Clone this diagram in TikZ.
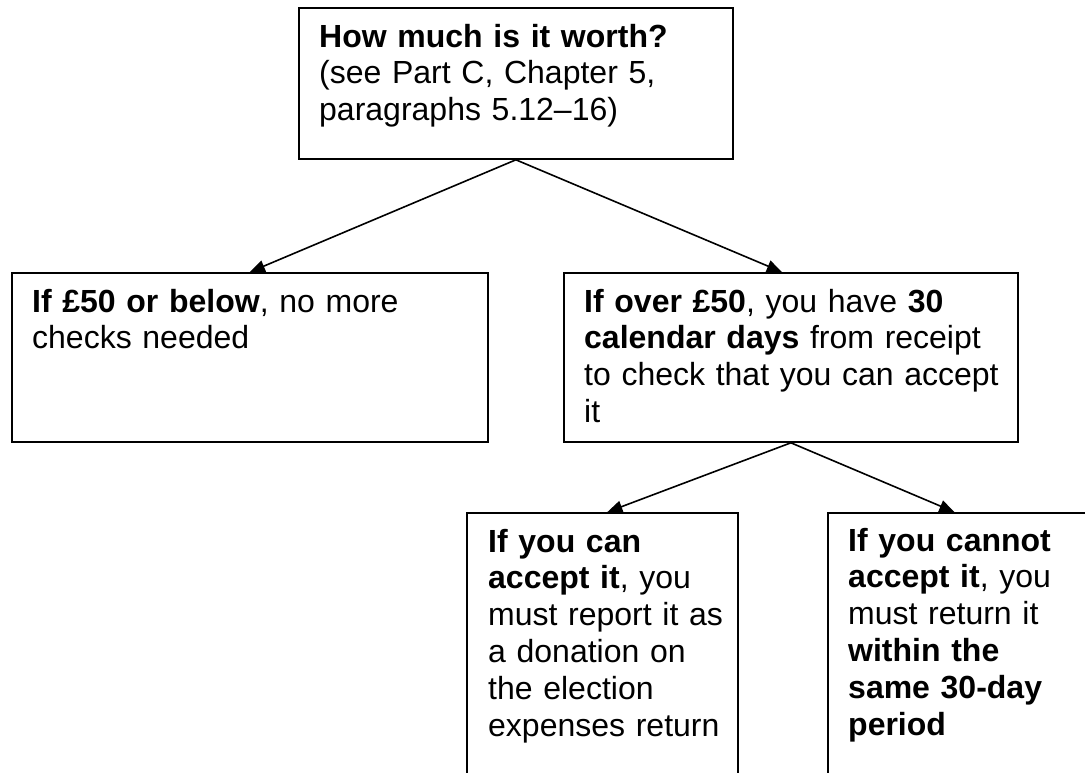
\documentclass[tikz,border=0pt]{standalone}
\usepackage{fontspec}
\setmainfont{Liberation Sans}
\usetikzlibrary{arrows.meta}
\begin{document}
\begin{tikzpicture}[x=1pt,y=-1pt,
  box/.style={draw, line width=1.8pt, inner sep=0pt, anchor=north west},
  txt/.style={inner sep=0pt, anchor=base west, align=left, font=\fontsize{32}{36.8}\selectfont},
  link/.style={line width=1.6pt, -{Triangle[length=15pt,width=12pt]}}
]
\useasboundingbox[fill=white] (0,0) rectangle (1085,772);
% boxes
\node[box, minimum width=434pt, minimum height=151pt] (top) at (298,7) {};
\node[box, minimum width=476pt, minimum height=169pt] (lm) at (11,272) {};
\node[box, minimum width=454pt, minimum height=169pt] (rm) at (563,272) {};
\node[box, minimum width=271pt, minimum height=300pt] (bl) at (466,512) {};
\node[box, minimum width=271pt, minimum height=300pt] (br) at (827,512) {};
% texts
\node[txt, text width=405pt] (topT) at ([xshift=21pt,yshift=-40pt]top.north west)
  {\textbf{How much is it worth?}\\(see Part C, Chapter 5,\\paragraphs 5.12–16)};
\node[txt, text width=440pt] (lmT) at ([xshift=21pt,yshift=-40pt]lm.north west)
  {\textbf{If £50 or below}, no more\\checks needed};
\node[txt, text width=425pt] (rmT) at ([xshift=21pt,yshift=-40pt]rm.north west)
  {\textbf{If over £50}, you have \textbf{30}\\\textbf{calendar days} from receipt\\to check that you can accept\\it};
\node[txt, text width=245pt] (blT) at ([xshift=22pt,yshift=-40pt]bl.north west)
  {\textbf{If you can}\\\textbf{accept it}, you\\must report it as\\a donation on\\the election\\expenses return};
\node[txt, text width=245pt] (brT) at ([xshift=21pt,yshift=-39pt]br.north west)
  {\textbf{If you cannot}\\\textbf{accept it}, you\\must return it\\\textbf{within the}\\\textbf{same 30-day}\\\textbf{period}};
% connectors
\draw[link] (top.south) -- (lm.north);
\draw[link] (top.south) -- ([xshift=-9pt]rm.north);
\draw[link] (rm.south) -- ([xshift=5pt]bl.north);
\draw[link] (rm.south) -- ([xshift=-9pt]br.north);
\end{tikzpicture}
\end{document}
